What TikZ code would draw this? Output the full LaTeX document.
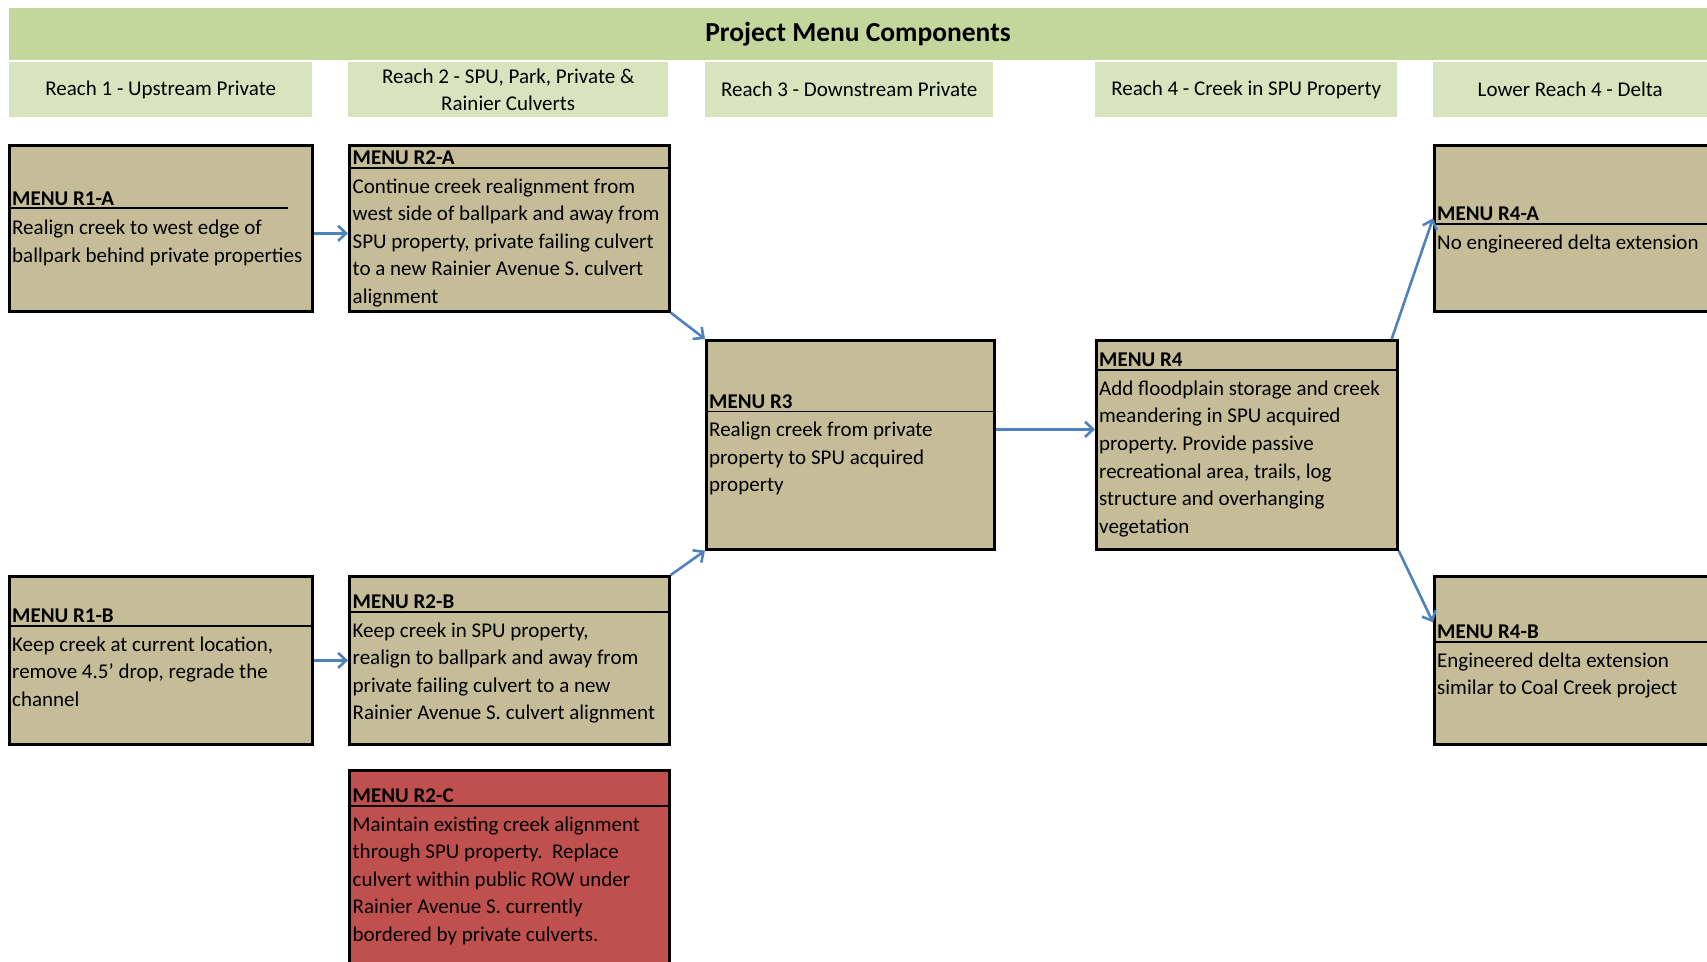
\documentclass[tikz,border=0pt]{standalone}
\usepackage{fontspec}
\setmainfont{Carlito}
\usetikzlibrary{arrows.meta}
\definecolor{tanc}{HTML}{C4BD97}
\definecolor{redc}{HTML}{C0504D}
\definecolor{bannerc}{HTML}{C3D69B}
\definecolor{hdrc}{HTML}{D7E4BD}
\definecolor{arrc}{HTML}{4F81BD}
\frenchspacing
\tikzset{
  box/.style={draw=black, line width=2.7pt, fill=tanc, inner sep=0pt, anchor=north west},
  redbox/.style={box, fill=redc},
  hdr/.style={fill=hdrc, inner sep=0pt, anchor=north west, align=center, font=\fontsize{21}{27}\selectfont},
  ttl/.style={anchor=base west, inner sep=0pt, font=\fontsize{21}{27.6}\selectfont\bfseries},
  bodytxt/.style={anchor=north west, inner sep=0pt, align=left, font=\fontsize{21}{27.6}\selectfont},
  sepline/.style={line width=1.8pt},
  arr/.style={draw=arrc, line width=2.6pt, -{Straight Barb[length=8pt,width=15pt]}}
}
\begin{document}
\begin{tikzpicture}[x=1pt,y=-1pt]
\useasboundingbox (0,0) rectangle (1707,961);
\clip (0,0) rectangle (1707,961);
% banner and column headers
\node[fill=bannerc, inner sep=0pt, anchor=north west, minimum width=1698.3pt, minimum height=52.4pt,
      font=\fontsize{27.5}{33}\selectfont\bfseries] (banner) at (8.7,7.6) {Project Menu Components};
\node[hdr, minimum width=303pt, minimum height=54.5pt] (H1) at (9,62) {Reach 1 - Upstream Private};
\node[hdr, minimum width=320pt, minimum height=54.5pt] (H2) at (348,62) {Reach 2 - SPU, Park, Private \&\\Rainier Culverts};
\node[hdr, minimum width=288pt, minimum height=54.5pt] (H3) at (705,62) {Reach 3 - Downstream Private};
\node[hdr, minimum width=302pt, minimum height=54.5pt] (H4) at (1095,62) {Reach 4 - Creek in SPU Property};
\node[hdr, minimum width=274pt, minimum height=54.5pt] (H5) at (1433,62) {Lower Reach 4 - Delta};
% boxes
\node[box, minimum width=303pt, minimum height=166pt] (R1A) at (8,144) {};
\node[box, minimum width=320pt, minimum height=166pt] (R2A) at (348,144) {};
\node[box, minimum width=288pt, minimum height=209pt] (R3) at (705,339) {};
\node[box, minimum width=301pt, minimum height=209pt] (R4) at (1095,339) {};
\node[box, minimum width=300pt, minimum height=166pt] (R4A) at (1433,144) {};
\node[box, minimum width=303pt, minimum height=168pt] (R1B) at (8,575) {};
\node[box, minimum width=320pt, minimum height=168pt] (R2B) at (348,575) {};
\node[redbox, minimum width=320pt, minimum height=220pt] (R2C) at (348,769) {};
\node[box, minimum width=300pt, minimum height=168pt] (R4B) at (1433,575) {};
% separator lines
\draw[sepline] (8,208) -- (288,208);
\draw[sepline] (348,168) -- (668,168);
\draw[sepline] (705,411.5) -- (993,411.5);
\draw[sepline] (1095,370) -- (1396,370);
\draw[sepline] (1433,224) -- (1707,224);
\draw[sepline] (8,626) -- (311,626);
\draw[sepline] (348,612) -- (668,612);
\draw[sepline] (348,806) -- (668,806);
\draw[sepline] (1433,642) -- (1707,642);
% titles
\node[ttl] (R1At) at (12,205) {MENU R1-A};
\node[ttl] (R2At) at (352.5,164.5) {MENU R2-A};
\node[ttl] (R3t) at (709,408) {MENU R3};
\node[ttl] (R4t) at (1099,366.5) {MENU R4};
\node[ttl] (R4At) at (1437,220.5) {MENU R4-A};
\node[ttl] (R1Bt) at (12,622.5) {MENU R1-B};
\node[ttl] (R2Bt) at (352.5,608.5) {MENU R2-B};
\node[ttl] (R2Ct) at (352.5,802.5) {MENU R2-C};
\node[ttl] (R4Bt) at (1437,638.5) {MENU R4-B};
% bodies
\node[bodytxt] (R1Ab) at (12,215) {\strut Realign creek to west edge of\\ballpark behind private properties};
\node[bodytxt] (R2Ab) at (352.5,173.5) {\strut Continue creek realignment from\\west side of ballpark and away from\\SPU property, private failing culvert\\to a new Rainier Avenue S. culvert\\alignment};
\node[bodytxt] (R3b) at (709,417.2) {\strut Realign creek from private\\property to SPU acquired\\property};
\node[bodytxt] (R4b) at (1099,375.7) {\strut Add floodplain storage and creek\\meandering in SPU acquired\\property. Provide passive\\recreational area, trails, log\\structure and overhanging\\vegetation};
\node[bodytxt] (R4Ab) at (1437,229.5) {\strut No engineered delta extension};
\node[bodytxt] (R1Bb) at (12,631.5) {\strut Keep creek at current location,\\remove 4.5' drop, regrade the\\channel};
\node[bodytxt] (R2Bb) at (352.5,617.5) {\strut Keep creek in SPU property,\\realign to ballpark and away from\\private failing culvert to a new\\Rainier Avenue S. culvert alignment};
\node[bodytxt] (R2Cb) at (352.5,811.5) {\strut Maintain existing creek alignment\\through SPU property.\ \ Replace\\culvert within public ROW under\\Rainier Avenue S. currently\\bordered by private culverts.};
\node[bodytxt] (R4Bb) at (1437,647.5) {\strut Engineered delta extension\\similar to Coal Creek project};
% connectors
\draw[arr] ([yshift=-5pt]R1A.east) -- ([yshift=-5pt]R2A.west);
\draw[arr] (R1B.east) -- (R2B.west);
\draw[arr] (R2A.south east) -- (R3.north west);
\draw[arr] (R2B.north east) -- (R3.south west);
\draw[arr] ([yshift=15.5pt]R3.east) -- ([yshift=15.5pt]R4.west);
\draw[arr] ([xshift=-7pt]R4.north east) -- ([yshift=10pt]R4A.west);
\draw[arr] (R4.south east) -- ([yshift=38pt]R4B.west);
\end{tikzpicture}
\end{document}
